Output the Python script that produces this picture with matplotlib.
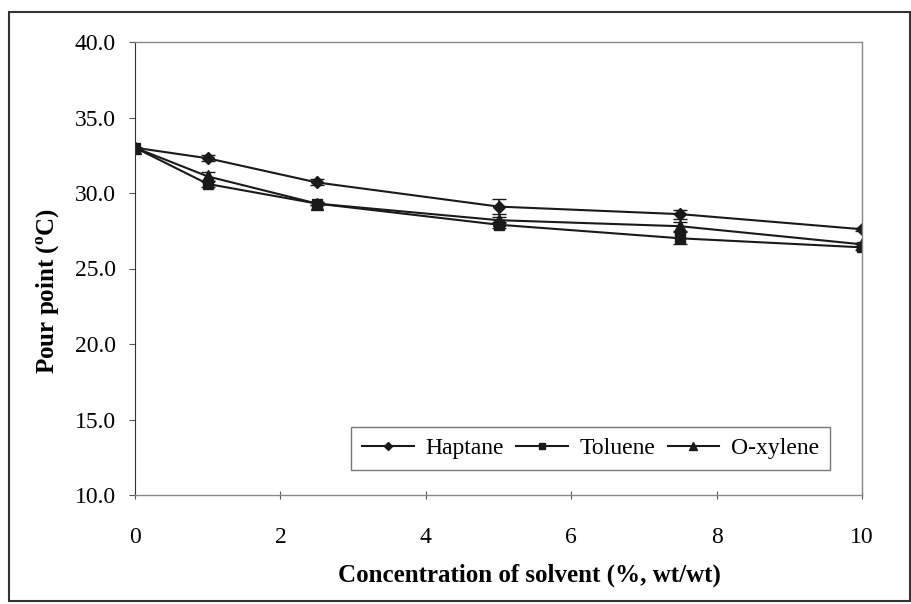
import numpy as np
import matplotlib.pyplot as plt
from matplotlib.patches import Rectangle
from matplotlib.lines import Line2D

plt.rcParams['font.family'] = ['Liberation Serif', 'DejaVu Serif']

# 溶剂浓度 (%, wt/wt)
conc = [0, 1, 2.5, 5, 7.5, 10]

# 倾点 (°C) 及误差
haptane = [33.0, 32.3, 30.7, 29.1, 28.6, 27.6]
haptane_err = [0.0, 0.2, 0.2, 0.5, 0.3, 0.1]
toluene = [33.0, 30.6, 29.3, 27.9, 27.0, 26.4]
toluene_err = [0.0, 0.2, 0.1, 0.2, 0.4, 0.2]
oxylene = [33.0, 31.1, 29.3, 28.2, 27.8, 26.6]
oxylene_err = [0.0, 0.3, 0.1, 0.2, 0.3, 0.1]

series = [
    ('Haptane', haptane, haptane_err, 'D', 6),
    ('Toluene', toluene, toluene_err, 's', 7),
    ('O-xylene', oxylene, oxylene_err, '^', 8),
]

fig = plt.figure(figsize=(9.11, 6.04), dpi=100)
ax = fig.add_axes([135 / 911, 1 - 495 / 604, 727 / 911, 453 / 604])

handles = []
for name, y, err, mk, ms in series:
    ax.errorbar(conc, y, yerr=err, color='#1a1a1a', lw=1.5, marker=mk,
                markersize=ms, capsize=5, elinewidth=1.2)
    handles.append(Line2D([], [], color='#1a1a1a', lw=1.5, marker=mk,
                          markersize=ms - 2, label=name))

ax.set_xlim(0, 10)
ax.set_ylim(10, 40)
ax.set_xticks([0, 2, 4, 6, 8, 10])
ax.set_yticks(np.arange(10, 40.1, 5))
ax.set_yticklabels(['%.1f' % v for v in np.arange(10, 40.1, 5)])
ax.tick_params(axis='both', labelsize=17, direction='out', length=4,
               color='#555555')
ax.tick_params(axis='y', pad=10)
ax.tick_params(axis='x', direction='inout', length=6, pad=20)

for side in ['top', 'right', 'bottom']:
    ax.spines[side].set_color('#888888')
    ax.spines[side].set_linewidth(1.0)
ax.spines['left'].set_color('#333333')

ax.set_xlabel('Concentration of solvent (%, wt/wt)', fontsize=18,
              fontweight='bold')
ax.xaxis.set_label_coords(0.542, -0.152)
ax.set_ylabel('Pour point ($^{\\mathregular{o}}$C)', fontsize=18,
              fontweight='bold')
ax.yaxis.set_label_coords(-0.10, 0.45)

leg = ax.legend(handles=handles, loc='lower right',
                bbox_to_anchor=(0.956, 0.055), borderaxespad=0, ncol=3,
                fontsize=17, frameon=True, fancybox=False, handlelength=2.2,
                handletextpad=0.5, columnspacing=0.5, borderpad=0.45)
leg.get_frame().set_edgecolor('#555555')
leg.get_frame().set_linewidth(1.0)

# 外边框
fig.patches.append(Rectangle((9 / 911, 3 / 604), 901 / 911, 589 / 604,
                             transform=fig.transFigure, fill=False,
                             edgecolor='#333333', lw=1.5))

fig.savefig('out.png', dpi=100)
